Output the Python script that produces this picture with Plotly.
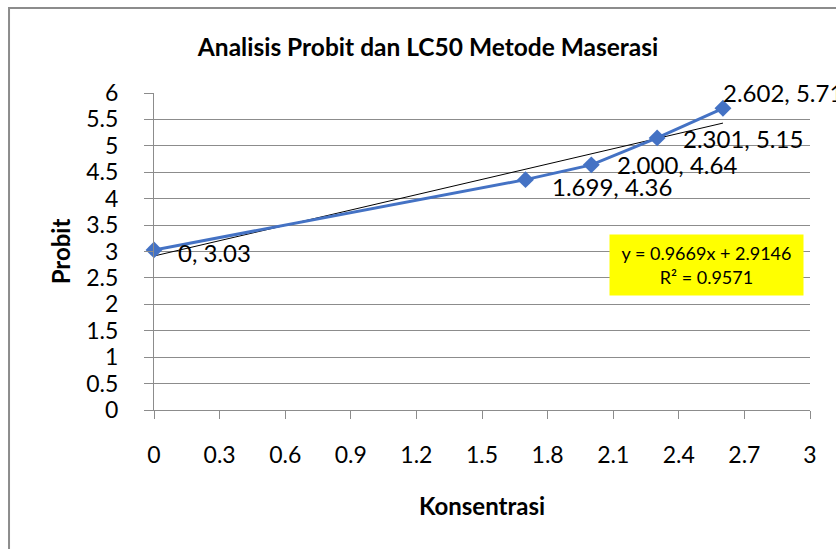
import plotly.graph_objects as go

konsentrasi = [0, 1.699, 2.000, 2.301, 2.602]
probit = [3.03, 4.36, 4.64, 5.15, 5.71]
point_labels = ["0, 3.03", "1.699, 4.36", "2.000, 4.64", "2.301, 5.15", "2.602, 5.71"]
slope = 0.9669
intercept = 2.9146
r_squared = 0.9571
x_ticks = [0, 0.3, 0.6, 0.9, 1.2, 1.5, 1.8, 2.1, 2.4, 2.7, 3]
y_ticks = [0, 0.5, 1, 1.5, 2, 2.5, 3, 3.5, 4, 4.5, 5, 5.5, 6]

FONT = "Lato, Open Sans, sans-serif"
GRID = "#8c8c8c"

trend_x = [min(konsentrasi), max(konsentrasi)]
trend_y = [slope * v + intercept for v in trend_x]

fig = go.Figure()
fig.add_trace(go.Scatter(x=trend_x, y=trend_y, mode="lines",
                         line=dict(color="black", width=1), showlegend=False,
                         hoverinfo="skip", cliponaxis=False))
fig.add_trace(go.Scatter(x=konsentrasi, y=probit, mode="lines+markers",
                         line=dict(color="#4472C4", width=3),
                         marker=dict(symbol="diamond", size=13, color="#4472C4"),
                         showlegend=False, cliponaxis=False))

# data labels (offsets in pixels, style only)
offsets = [(22, -3), (24, -7), (24, 0), (24, -1), (-2, 16)]
for xv, yv, lab, (dx, dy) in zip(konsentrasi, probit, point_labels, offsets):
    fig.add_annotation(x=xv, y=yv, text=lab, showarrow=False, xanchor="left",
                       yanchor="middle", xshift=dx, yshift=dy,
                       font=dict(family=FONT, size=24, color="black"))

fig.add_annotation(xref="paper", yref="paper", x=0.8415, y=0.457,
                   xanchor="center", yanchor="middle",
                   text=f"y = {slope}x + {intercept}<br>R² = {r_squared}",
                   showarrow=False, bgcolor="#FFFF00", borderpad=0,
                   font=dict(family=FONT, size=18, color="black"),
                   align="center", width=193, height=60)

# chart border
fig.add_shape(type="rect", xref="paper", yref="paper",
              x0=-0.221, x1=1.2, y0=-0.6, y1=1.268,
              line=dict(color="#8c8c8c", width=2), layer="below")

fig.update_layout(
    width=836, height=549,
    margin=dict(l=154, r=26, t=93, b=139, autoexpand=False),
    paper_bgcolor="white", plot_bgcolor="white",
    title=dict(text="<b>Analisis Probit dan LC50 Metode Maserasi</b>",
               x=0.512, xanchor="center", xref="container", y=0.913, yanchor="middle",
               font=dict(family=FONT, size=24.5, color="black")),
    xaxis=dict(range=[0, 3], tickvals=x_ticks, ticktext=[f"{v:g}" for v in x_ticks],
               showgrid=False, showline=True, linecolor=GRID, linewidth=1,
               ticks="outside", ticklen=8, tickcolor=GRID, zeroline=False,
               ticklabelstandoff=16, automargin=False,
               tickfont=dict(family=FONT, size=23, color="black"),
               title=dict(text="<b>Konsentrasi</b>", standoff=31,
                          font=dict(family=FONT, size=24, color="black"))),
    yaxis=dict(range=[0, 6], tickvals=y_ticks, ticktext=[f"{v:g}" for v in y_ticks],
               showgrid=True, gridcolor=GRID, gridwidth=1,
               showline=True, linecolor=GRID, linewidth=1,
               ticks="outside", ticklen=9, tickcolor=GRID, zeroline=False,
               ticklabelstandoff=21, automargin=False,
               tickfont=dict(family=FONT, size=23, color="black"),
               title=dict(text="<b>Probit</b>", standoff=8,
                          font=dict(family=FONT, size=24, color="black"))),
)

fig.write_html("out.html", config={"displayModeBar": False},
               post_script="document.body.style.margin='0';document.body.style.overflow='hidden';")
